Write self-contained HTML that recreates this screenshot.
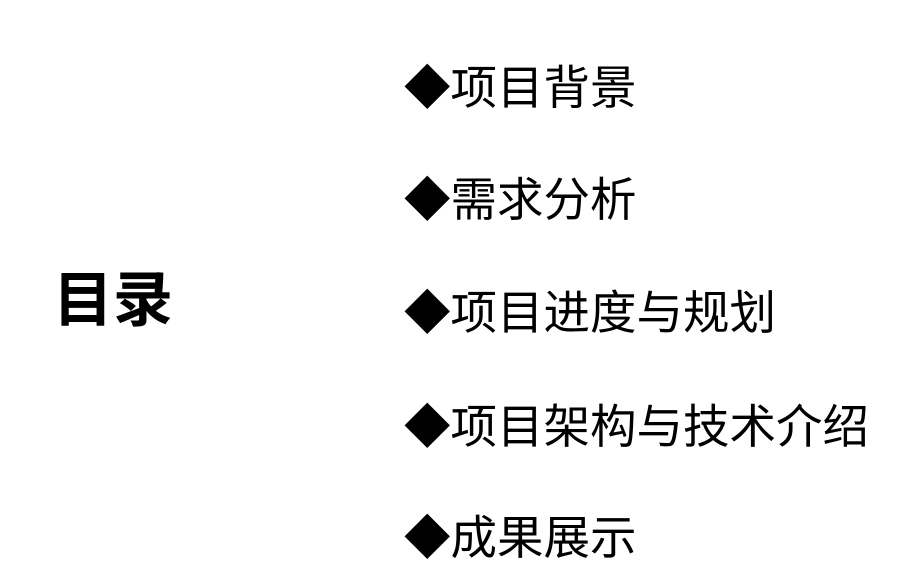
<!DOCTYPE html>
<html><head><meta charset="utf-8"><style>
html,body{margin:0;padding:0;background:#fff;}
body{width:899px;height:587px;position:relative;overflow:hidden;font-family:"Liberation Sans","Noto Sans CJK SC",sans-serif;color:#000;}
.t{position:absolute;white-space:nowrap;line-height:1;}
.i{left:404px;font-size:46.5px;}
</style></head><body>
<div class="t" style="left:53px;top:271px;font-size:60px;font-weight:bold;">目录</div>
<div class="t i" style="top:65px;">◆项目背景</div>
<div class="t i" style="top:177px;">◆需求分析</div>
<div class="t i" style="top:290px;">◆项目进度与规划</div>
<div class="t i" style="top:404px;">◆项目架构与技术介绍</div>
<div class="t i" style="top:515px;">◆成果展示</div>
</body></html>
